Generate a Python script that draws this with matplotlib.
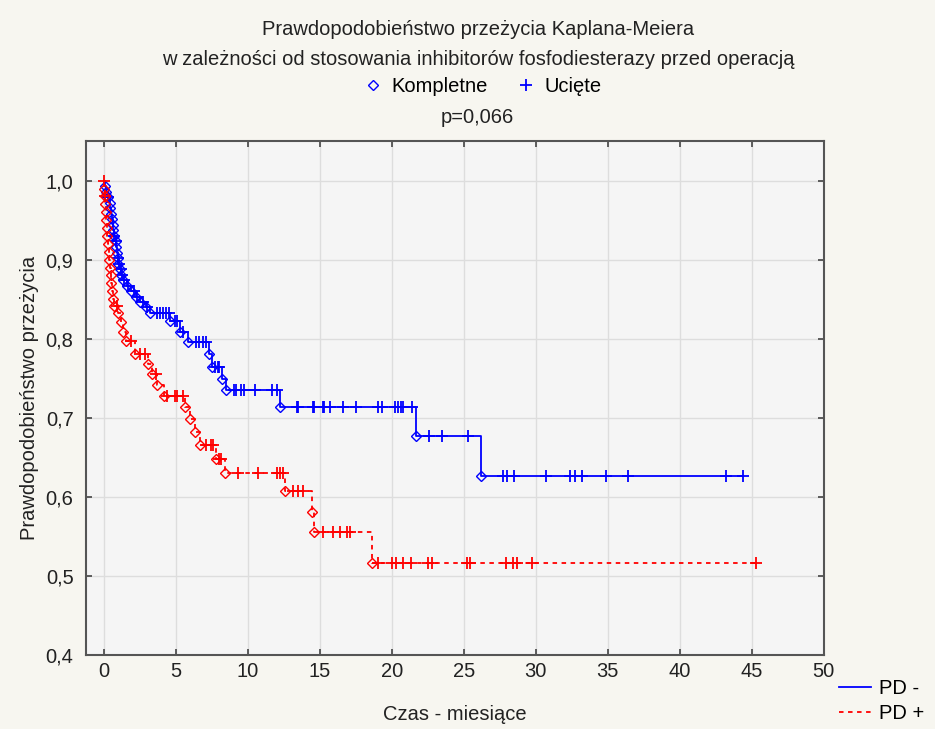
import numpy as np
import matplotlib
matplotlib.use("Agg")
from matplotlib import pyplot as plt
from matplotlib.lines import Line2D

plt.rcParams['font.family'] = ['Liberation Sans', 'DejaVu Sans']

# PD - : czasy zdarzeń (miesiące) i prawdopodobieństwo przeżycia po zdarzeniu
pd_minus_t = [0.05, 0.15, 0.25, 0.4, 0.45, 0.5, 0.55, 0.6, 0.65, 0.7, 0.8, 0.85, 0.9,
              0.95, 1.0, 1.1, 1.2, 1.3, 1.6, 1.9, 2.2, 2.5, 2.9, 3.2, 4.6, 5.3, 5.8,
              7.3, 7.5, 8.2, 8.5, 12.2, 21.7, 26.2]
pd_minus_s = [0.993, 0.986, 0.979, 0.972, 0.965, 0.958, 0.951, 0.944, 0.937, 0.930,
              0.923, 0.916, 0.909, 0.902, 0.895, 0.888, 0.881, 0.874, 0.867, 0.860,
              0.853, 0.847, 0.840, 0.833, 0.822, 0.808, 0.796, 0.781, 0.764, 0.749,
              0.735, 0.714, 0.677, 0.627]
# PD - : obserwacje ucięte
pd_minus_cens = [0.3, 0.72, 0.82, 0.97, 1.05, 1.15, 1.25, 1.4, 1.7, 2.1, 2.3, 2.7, 3.0,
                 3.7, 3.9, 4.1, 4.3, 4.5, 4.9, 5.1, 5.5, 6.4, 6.6, 6.9, 7.1, 7.7, 7.9,
                 8.0, 9.0, 9.2, 9.5, 9.7, 10.5, 11.7, 12.0, 13.4, 13.5, 14.5, 14.6,
                 15.2, 15.3, 15.7, 16.6, 17.5, 19.0, 19.3, 20.2, 20.4, 20.6, 20.8, 21.4,
                 22.6, 23.5, 25.3, 27.7, 28.0, 28.5, 30.7, 32.4, 32.7, 33.2, 34.9, 36.4,
                 43.2, 44.4]

# PD + : czasy zdarzeń i prawdopodobieństwo przeżycia
pd_plus_t = [0.03, 0.06, 0.1, 0.13, 0.16, 0.2, 0.24, 0.28, 0.32, 0.37, 0.42, 0.47, 0.52,
             0.57, 0.62, 0.7, 1.0, 1.15, 1.3, 1.5, 2.15, 3.05, 3.3, 3.7, 4.2, 5.6, 6.0,
             6.3, 6.7, 7.8, 8.4, 12.6, 14.45, 14.6, 18.6]
pd_plus_s = [0.990, 0.980, 0.970, 0.960, 0.950, 0.940, 0.930, 0.920, 0.910, 0.900,
             0.890, 0.880, 0.870, 0.860, 0.850, 0.841, 0.833, 0.821, 0.809, 0.797,
             0.781, 0.768, 0.755, 0.741, 0.727, 0.714, 0.699, 0.682, 0.665, 0.648,
             0.630, 0.607, 0.581, 0.556, 0.516]
pd_plus_cens = [0.0, 0.08, 0.9, 1.9, 2.5, 2.85, 3.6, 4.4, 4.9, 5.1, 5.5, 7.1, 7.4, 7.6,
                8.0, 8.1, 9.3, 10.7, 12.0, 12.2, 12.4, 13.1, 13.5, 13.8, 15.2, 15.9,
                16.4, 16.9, 17.1, 19.0, 20.0, 20.3, 20.8, 21.3, 22.5, 22.8, 25.2, 25.4,
                27.9, 28.4, 28.7, 29.7, 45.3]

x_ticks = [0, 5, 10, 15, 20, 25, 30, 35, 40, 45, 50]
y_ticks = [0.4, 0.5, 0.6, 0.7, 0.8, 0.9, 1.0]

FS = 14.5
TXT = '#222222'
MS_D = 5.5
MS_P = 8


def surv_at(t_list, s_list, t):
    """wartość funkcji przeżycia (schodkowej) w chwili t"""
    idx = np.searchsorted(np.array(t_list), t, side='right') - 1
    return 1.0 if idx < 0 else s_list[idx]


def draw_km(ax, t_list, s_list, cens, color, ls):
    t_end = max(max(cens), t_list[-1])
    xs = [0.0] + list(t_list) + [t_end]
    ys = [1.0] + list(s_list) + [s_list[-1]]
    if ls == '--':
        ax.plot(xs, ys, drawstyle='steps-post', color=color, lw=1.3,
                dashes=(2.5, 2.5), zorder=3)
    else:
        ax.plot(xs, ys, drawstyle='steps-post', color=color, lw=1.3, zorder=3)
    ax.plot(t_list, s_list, ls='none', marker='D', ms=MS_D, mfc='none',
            mec=color, mew=1.0, zorder=4)
    cy = [surv_at(t_list, s_list, c) for c in cens]
    ax.plot(cens, cy, ls='none', marker='+', ms=MS_P, mec=color, mew=1.3, zorder=4)


fig = plt.figure(figsize=(9.35, 7.29), dpi=100)
fig.patch.set_facecolor('#f7f6f0')
ax = fig.add_axes([0.092, 0.1015, 0.789, 0.705])
ax.set_facecolor('#f5f5f5')

draw_km(ax, pd_minus_t, pd_minus_s, pd_minus_cens, '#0000ff', '-')
draw_km(ax, pd_plus_t, pd_plus_s, pd_plus_cens, '#ff0000', '--')

ax.set_xlim(-1.25, 50)
ax.set_ylim(0.4, 1.05)
ax.set_xticks(x_ticks)
ax.set_yticks(y_ticks)
ax.set_yticklabels([('%.1f' % v).replace('.', ',') for v in y_ticks])
ax.tick_params(direction='in', length=4, width=1.2, color='#444444',
               top=True, right=True, labelsize=FS, labelcolor=TXT)
ax.tick_params(axis='y', pad=9)
ax.tick_params(axis='x', pad=5)
ax.grid(True, color='#dddddd', lw=1.0, zorder=0)
ax.set_axisbelow(True)
for sp in ax.spines.values():
    sp.set_color('#555555')
    sp.set_linewidth(1.5)

ax.set_xlabel('Czas - miesiące', fontsize=FS, color=TXT, labelpad=17)
ax.set_ylabel('Prawdopodobieństwo przeżycia', fontsize=FS, color=TXT, labelpad=5)

fig.text(0.511, 0.960, 'Prawdopodobieństwo przeżycia Kaplana-Meiera',
         ha='center', va='center', fontsize=FS, color=TXT)
fig.text(0.511, 0.919, 'w zależności od stosowania inhibitorów fosfodiesterazy przed operacją',
         ha='center', va='center', fontsize=FS, color=TXT)
fig.text(0.511, 0.839, 'p=0,066', ha='center', va='center', fontsize=FS, color=TXT)

# legenda typów obserwacji
marker_handles = [
    Line2D([], [], ls='none', marker='D', ms=MS_D, mfc='none', mec='#0000ff', mew=1.0),
    Line2D([], [], ls='none', marker='+', ms=MS_P, mec='#0000ff', mew=1.3),
]
fig.legend(marker_handles, ['Kompletne', 'Ucięte'], loc='center', ncol=2,
           bbox_to_anchor=(0.517, 0.881), frameon=False, fontsize=FS,
           handlelength=0.8, handletextpad=0.5, columnspacing=1.5)

# legenda grup
line_handles = [
    Line2D([], [], color='#0000ff', lw=1.3),
    Line2D([], [], color='#ff0000', lw=1.3, dashes=(2.5, 2.5)),
]
fig.legend(line_handles, ['PD -', 'PD +'], loc='upper left',
           bbox_to_anchor=(0.897, 0.068), frameon=False, fontsize=FS,
           handlelength=1.6, handletextpad=0.4, labelspacing=0.3,
           borderaxespad=0, borderpad=0)

fig.savefig('out.png', dpi=100, facecolor=fig.get_facecolor())
